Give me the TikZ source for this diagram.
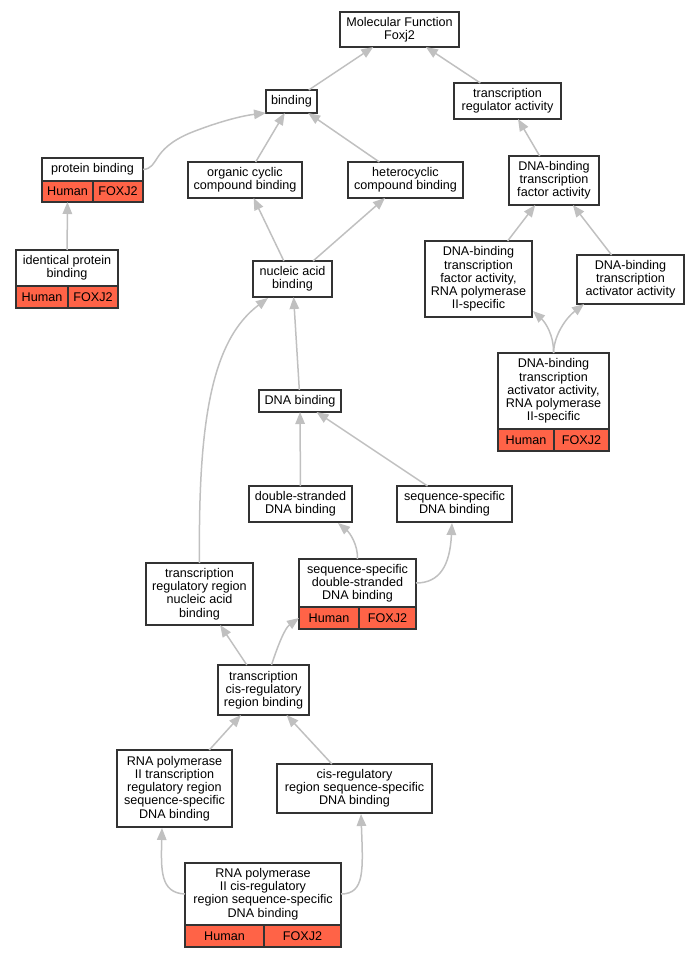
\documentclass[tikz,border=0pt]{standalone}
\usepackage{fontspec}
\setmainfont{Liberation Sans}
\usetikzlibrary{arrows.meta}
\definecolor{tomato}{HTML}{FF6347}
\definecolor{silver}{HTML}{C0C0C0}

\begin{document}
\begin{tikzpicture}[
        %We work in pixels and define some styles
        x=1pt, y=-1pt,
        term/.style={draw=black!80, line width=1.3pt, fill=white, align=center,
            inner sep=0pt, outer sep=0pt, font=\fontsize{12.6}{13.2}\selectfont},
        cell/.style={term, fill=tomato, anchor=north west, minimum height=22},
        isa/.style={draw=silver, line width=1.5pt, -{Triangle[length=12pt,width=9.5pt]}}
     ]
    \useasboundingbox (0,0) rectangle (700,957);

    % The GO terms are placed
    \node[term, minimum width=119, minimum height=35] (mf) at (399.5,29.5) {Molecular Function\\Foxj2};
    \node[term, minimum width=51, minimum height=23] (bind) at (291.5,101.5) {binding};
    \node[term, minimum width=107, minimum height=36] (tra) at (507.5,101) {transcription\\regulator activity};
    \node[term, minimum width=101, minimum height=23] (prot) at (92.5,169.5) {protein binding};
    \node[term, minimum width=114, minimum height=36] (occb) at (245,180) {organic cyclic\\compound binding};
    \node[term, minimum width=115, minimum height=36] (hccb) at (405.5,180) {heterocyclic\\compound binding};
    \node[term, minimum width=90, minimum height=49] (dbtf) at (554,180.5) {DNA-binding\\transcription\\factor activity};
    \node[term, minimum width=102, minimum height=36] (ipb) at (67,268) {identical protein\\binding};
    \node[term, minimum width=79, minimum height=36] (nab) at (292.5,279) {nucleic acid\\binding};
    \node[term, minimum width=107, minimum height=76] (dbtfp) at (478.5,279) {DNA-binding\\transcription\\factor activity,\\RNA polymerase\\II-specific};
    \node[term, minimum width=107, minimum height=49] (dbta) at (630.5,279.5) {DNA-binding\\transcription\\activator activity};
    \node[term, minimum width=111, minimum height=76] (dbtap) at (553.5,391) {DNA-binding\\transcription\\activator activity,\\RNA polymerase\\II-specific};
    \node[term, minimum width=82, minimum height=22] (dnab) at (300,401) {DNA binding};
    \node[term, minimum width=103, minimum height=36] (dsdb) at (300.5,504) {double-stranded\\DNA binding};
    \node[term, minimum width=115, minimum height=36] (ssdb) at (454.5,504) {sequence-specific\\DNA binding};
    \node[term, minimum width=117, minimum height=48] (ssds) at (357.5,583) {sequence-specific\\double-stranded\\DNA binding};
    \node[term, minimum width=107, minimum height=62] (trrn) at (199.5,594) {transcription\\regulatory region\\nucleic acid\\binding};
    \node[term, minimum width=91, minimum height=50] (tcrb) at (263.5,690) {transcription\\cis-regulatory\\region binding};
    \node[term, minimum width=115, minimum height=77] (rtrr) at (174.5,788.5) {RNA polymerase\\II transcription\\regulatory region\\sequence-specific\\DNA binding};
    \node[term, minimum width=155, minimum height=49] (crsd) at (354.5,788.5) {cis-regulatory\\region sequence-specific\\DNA binding};
    \node[term, minimum width=156, minimum height=62] (rcrs) at (263,894) {RNA polymerase\\II cis-regulatory\\region sequence-specific\\DNA binding};

    % Annotation rows
    \node[cell, minimum width=51, minimum height=21] (protH) at (prot.south west) {Human};
    \node[cell, minimum width=50, minimum height=21] (protF) at (protH.north east) {FOXJ2};
    \node[cell, minimum width=52] (ipbH) at (ipb.south west) {Human};
    \node[cell, minimum width=50] (ipbF) at (ipbH.north east) {FOXJ2};
    \node[cell, minimum width=56] (dbtapH) at (dbtap.south west) {Human};
    \node[cell, minimum width=55] (dbtapF) at (dbtapH.north east) {FOXJ2};
    \node[cell, minimum width=60] (ssdsH) at (ssds.south west) {Human};
    \node[cell, minimum width=57] (ssdsF) at (ssdsH.north east) {FOXJ2};
    \node[cell, minimum width=79] (rcrsH) at (rcrs.south west) {Human};
    \node[cell, minimum width=77] (rcrsF) at (rcrsH.north east) {FOXJ2};

    % is_a edges, child to parent
    \draw[isa] (bind) -- (mf);
    \draw[isa] (tra) -- (mf);
    \draw[isa] (prot.east) .. controls (160,168) and (150,150) .. (190,133)
        .. controls (215,123) and (240,116) .. (bind.south west);
    \draw[isa] (occb) -- (bind);
    \draw[isa] (hccb) -- (bind);
    \draw[isa] (dbtf) -- (tra);
    \draw[isa] (ipb) -- (protH);
    \draw[isa] (nab) -- (occb);
    \draw[isa] (nab) -- (hccb);
    \draw[isa] (dbtfp) -- (dbtf);
    \draw[isa] (dbta) -- (dbtf);
    \draw[isa] (dbtap.north) .. controls (554,335) and (545,322) .. (533,311);
    \draw[isa] (dbtap.north) .. controls (554,335) and (566,318) .. (584,304);
    \draw[isa] (dnab) -- (nab);
    \draw[isa] (trrn.north) .. controls (198,420) and (212,340) .. (268,298);
    \draw[isa] (dsdb) -- (dnab);
    \draw[isa] (ssdb) -- (dnab);
    \draw[isa] (ssds.north) .. controls (358,545) and (350,533) .. (338,523);
    \draw[isa] (ssds.east) .. controls (440,583) and (450,565) .. (452,523);
    \draw[isa] (tcrb) -- (trrn);
    \draw[isa] ([xshift=8]tcrb.north) .. controls (278,645) and (285,628) .. (ssdsH.west);
    \draw[isa] (rtrr) -- (tcrb);
    \draw[isa] (crsd) -- (tcrb);
    \draw[isa] (rcrs.west) .. controls (160,893) and (161,870) .. (162,828);
    \draw[isa] (rcrs.east) .. controls (365,894) and (363,870) .. (361,814);
\end{tikzpicture}
\end{document}
